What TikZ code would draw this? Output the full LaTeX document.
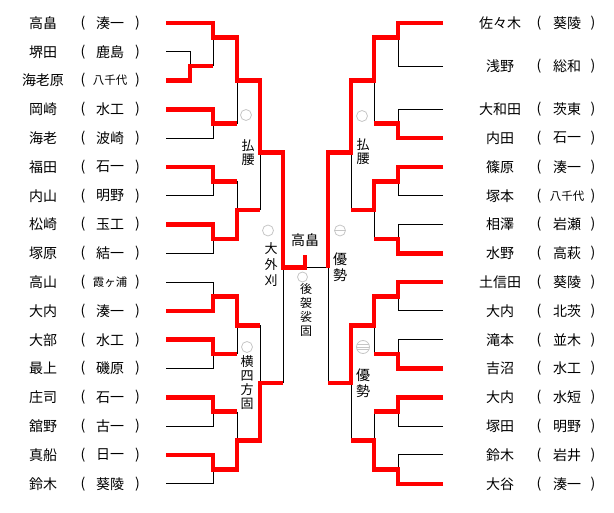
\documentclass[tikz,border=0pt]{standalone}
\usepackage{fontspec}
\setmainfont{Noto Sans CJK JP}

\begin{document}
\begin{tikzpicture}[x=1pt,y=-1pt,
    win/.style={draw=red,line width=4.6pt,line join=miter},
    lose/.style={draw=black,line width=1pt},
    player/.style={font=\fontsize{14}{16}\selectfont,inner sep=0pt},
    waza/.style={align=center,inner sep=0pt,font=\fontsize{13}{14}\selectfont},
    maru/.style={circle,draw=gray!45,line width=0.8pt,minimum size=11pt,inner sep=0pt},
    yusei/.style={maru,path picture={\draw[gray!45,line width=0.7pt] (path picture bounding box.west) -- (path picture bounding box.east);}},
    yusei3/.style={maru,minimum size=13pt,path picture={\foreach \s in {-2.6,0,2.6} \draw[gray!45,line width=0.6pt] ([yshift=\s pt]path picture bounding box.west) -- ([yshift=\s pt]path picture bounding box.east);}}
  ]
  \useasboundingbox (0,0) rectangle (614,513);

  % left side names, edit here for the entries
  \foreach \nm/\cl/\fs [count=\i from 0] in {高畠/湊一/14, 堺田/鹿島/14, 海老原/八千代/11.5, 岡崎/水工/14, 海老/波崎/14, 福田/石一/14, 内山/明野/14, 松崎/玉工/14, 塚原/結一/14, 高山/霞ヶ浦/11.5, 大内/湊一/14, 大部/水工/14, 最上/磯原/14, 庄司/石一/14, 舘野/古一/14, 真船/日一/14, 鈴木/葵陵/14}
  {
    \pgfmathsetmacro\yy{23+28.8*\i}
    \node[player] (ln\i) at (43,\yy) {\nm};
    \node[player] (lo\i) at (83,\yy) {(};
    \node[player,font=\fontsize{\fs}{\fs}\selectfont] (lc\i) at (110,\yy) {\cl};
    \node[player] (lr\i) at (137.5,\yy) {)};
  }
  % right side names, first field is the row
  \foreach \rw/\nm/\cl/\fs [count=\i] in {0/佐々木/葵陵/14, 1.5/浅野/総和/14, 3/大和田/茨東/14, 4/内田/石一/14, 5/篠原/湊一/14, 6/塚本/八千代/11.5, 7/相澤/岩瀬/14, 8/水野/高萩/14, 9/土信田/葵陵/14, 10/大内/北茨/14, 11/滝本/並木/14, 12/吉沼/水工/14, 13/大内/水短/14, 14/塚田/明野/14, 15/鈴木/岩井/14, 16/大谷/湊一/14}
  {
    \pgfmathsetmacro\yy{23+28.8*\rw}
    \node[player] (rn\i) at (500,\yy) {\nm};
    \node[player] (ro\i) at (539,\yy) {(};
    \node[player,font=\fontsize{\fs}{\fs}\selectfont] (rc\i) at (567,\yy) {\cl};
    \node[player] (rr\i) at (593,\yy) {)};
  }

  % left bracket, black lines
  \draw[lose] (166,51.8) -| (190,66.2);
  \foreach \ya/\yb in {138.2/123.8, 195.8/181.4, 253.4/239, 282.2/296.6, 368.6/354.2, 426.2/411.8, 483.8/469.4}
  \draw[lose] (166,\ya) -| (213,\yb);
  \draw[lose] (213,66.2) -- (213,37.4);
  \foreach \x/\ya/\yb in {237/123.8/80.6, 237/181.4/210.2, 237/354.2/325.4, 237/411.8/440.6, 260/210.2/152.6, 260/325.4/383, 283/383/267.8}
  \draw[lose] (\x,\ya) -- (\x,\yb);
  \draw[lose] (305,267.8) -- (328,267.8);

  % right bracket, black lines
  \foreach \ya/\yb in {66.2/37.4, 109.4/123.8, 195.8/181.4, 224.6/239, 311/296.6, 339.8/354.2, 426.2/411.8, 455/469.4}
  \draw[lose] (443,\ya) -| (398,\yb);
  \foreach \x/\ya/\yb in {374/123.8/80.6, 374/239/210.2, 374/354.2/325.4, 374/411.8/440.6, 351/210.2/152.6, 351/440.6/383, 328/383/267.8}
  \draw[lose] (\x,\ya) -- (\x,\yb);

  % left winners
  \draw[win] (166,23) -| (213,37.4) -| (237,80.6) -| (260,152.6) -| (283,267.8) -| (305,255);
  \draw[win] (166,80.6) -| (190,66.2) -- (213,66.2);
  \draw[win] (166,109.4) -| (213,123.8) -- (237,123.8);
  \draw[win] (166,167) -| (213,181.4) -- (237,181.4);
  \draw[win] (166,224.6) -| (213,239) -| (237,210.2) -- (260,210.2);
  \draw[win] (166,311) -| (213,296.6) -| (237,325.4) -- (260,325.4);
  \draw[win] (166,339.8) -| (213,354.2) -- (237,354.2);
  \draw[win] (166,397.4) -| (213,411.8) -- (237,411.8);
  \draw[win] (166,455) -| (213,469.4) -| (237,440.6) -| (260,383) -- (283,383);

  % right winners
  \draw[win] (443,23) -| (398,37.4) -| (374,80.6) -| (351,152.6) -| (328,267.8);
  \draw[win] (443,138.2) -| (398,123.8) -- (374,123.8);
  \draw[win] (443,167) -| (398,181.4) -| (374,210.2) -- (351,210.2);
  \draw[win] (443,253.4) -| (398,239) -- (374,239);
  \draw[win] (443,282.2) -| (398,296.6) -| (374,325.4) -| (351,383) -- (328,383);
  \draw[win] (443,368.6) -| (398,354.2) -- (374,354.2);
  \draw[win] (443,397.4) -| (398,411.8) -- (374,411.8);
  \draw[win] (443,483.8) -| (398,469.4) -| (374,440.6) -- (351,440.6);

  % results
  \node[maru] (m1) at (246,115) {};
  \node[waza] (w1) at (248,153) {払\\腰};
  \node[maru] (m2) at (268,230.5) {};
  \node[waza,font=\fontsize{13}{16}\selectfont] (w2) at (271,265) {大\\外\\刈};
  \node[maru] (m3) at (247,347) {};
  \node[waza] (w3) at (247,383) {横\\四\\方\\固};
  \node[player] (champ) at (305,240) {高畠};
  \node[maru,minimum size=10pt] (m4) at (302.5,277) {};
  \node[waza,font=\fontsize{12}{14}\selectfont] (w4) at (306,309.5) {後\\袈\\裟\\固};
  \node[maru] (m5) at (362,116) {};
  \node[waza] (w5) at (363,152) {払\\腰};
  \node[yusei] (m6) at (340,230.5) {};
  \node[waza,font=\fontsize{14}{16}\selectfont] (w6) at (340,267) {優\\勢};
  \node[yusei3] (m7) at (363,347) {};
  \node[waza,font=\fontsize{14}{16}\selectfont] (w7) at (363,383) {優\\勢};
\end{tikzpicture}
\end{document}
